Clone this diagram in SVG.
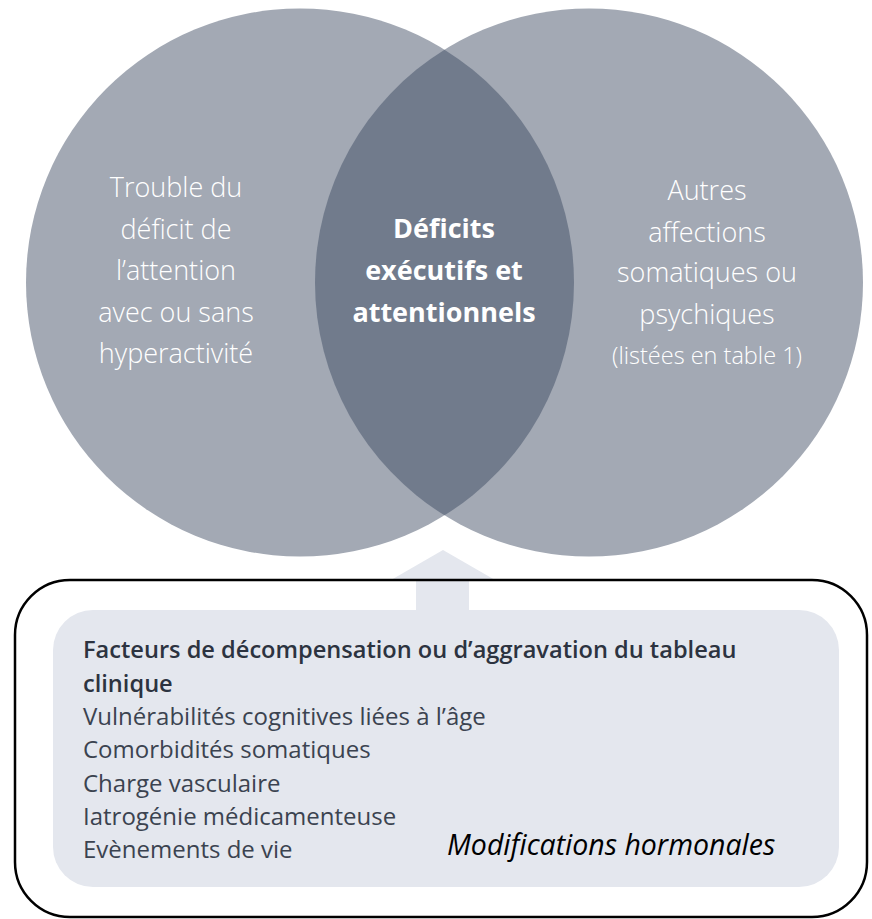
<svg xmlns="http://www.w3.org/2000/svg" width="872" height="919" viewBox="0 0 872 919">
  <style>
    .set { fill: #a3a9b4; }
    .overlap { fill: #717b8c; }
    .venn { font-family: "Open Sans", "Noto Sans", sans-serif; font-size: 27px; font-weight: 300; fill: #ffffff; text-anchor: middle; }
    .venn-bold { font-weight: 700; }
    .venn-small { font-size: 23.5px; }
    .panel { fill: #e4e7ee; }
    .frame { fill: none; stroke: #000000; stroke-width: 2.5; }
    .list { font-family: "Open Sans", "Noto Sans", sans-serif; font-size: 24px; fill: #3b4350; }
    .list-head { font-size: 23.6px; font-weight: 600; fill: #2c3340; }
    .note { font-family: "Open Sans", "Noto Sans", sans-serif; font-size: 28.5px; font-style: italic; fill: #000000; }
  </style>

  <!-- Left set -->
  <g id="node-tdah">
    <circle class="set" cx="300" cy="282.5" r="274"/>
  </g>

  <!-- Right set -->
  <g id="node-autres">
    <circle class="set" cx="589" cy="282.5" r="274"/>
  </g>

  <!-- Overlap of the two sets -->
  <g id="node-deficits">
    <path class="overlap" d="M444.5,49.7 A274,274 0 0,0 444.5,515.3 A274,274 0 0,0 444.5,49.7 Z"/>
  </g>

  <!-- Set labels -->
  <g id="label-tdah" class="venn">
    <text x="176" y="197">Trouble du</text>
    <text x="176" y="238.5">déficit de</text>
    <text x="176" y="280">l’attention</text>
    <text x="176" y="321.5">avec ou sans</text>
    <text x="176" y="363">hyperactivité</text>
  </g>
  <g id="label-deficits" class="venn venn-bold">
    <text x="444" y="238">Déficits</text>
    <text x="444" y="280">exécutifs et</text>
    <text x="444" y="321.5">attentionnels</text>
  </g>
  <g id="label-autres" class="venn">
    <text x="707" y="200">Autres</text>
    <text x="707" y="241.5">affections</text>
    <text x="707" y="282">somatiques ou</text>
    <text x="707" y="323.5">psychiques</text>
    <text class="venn-small" x="707" y="364">(listées en table 1)</text>
  </g>

  <!-- Connector: upward arrow from the factors panel -->
  <g id="connectors">
    <polygon class="panel" points="443,550 495,580 469,580 469,612 416,612 416,580 391,580"/>
  </g>

  <!-- Factors panel -->
  <g id="node-facteurs">
    <rect class="panel" x="53" y="610" width="786" height="277" rx="40" ry="40"/>
    <rect class="frame" x="15" y="580" width="852" height="337" rx="55" ry="55"/>
    <g class="list">
      <text class="list-head" x="83" y="658">Facteurs de décompensation ou d’aggravation du tableau</text>
      <text class="list-head" x="83" y="691.5">clinique</text>
      <text x="83" y="725">Vulnérabilités cognitives liées à l’âge</text>
      <text x="83" y="758">Comorbidités somatiques</text>
      <text x="83" y="791.5">Charge vasculaire</text>
      <text x="83" y="825">Iatrogénie médicamenteuse</text>
      <text x="83" y="858">Evènements de vie</text>
    </g>
    <text class="note" x="447" y="855">Modifications hormonales</text>
  </g>
</svg>
